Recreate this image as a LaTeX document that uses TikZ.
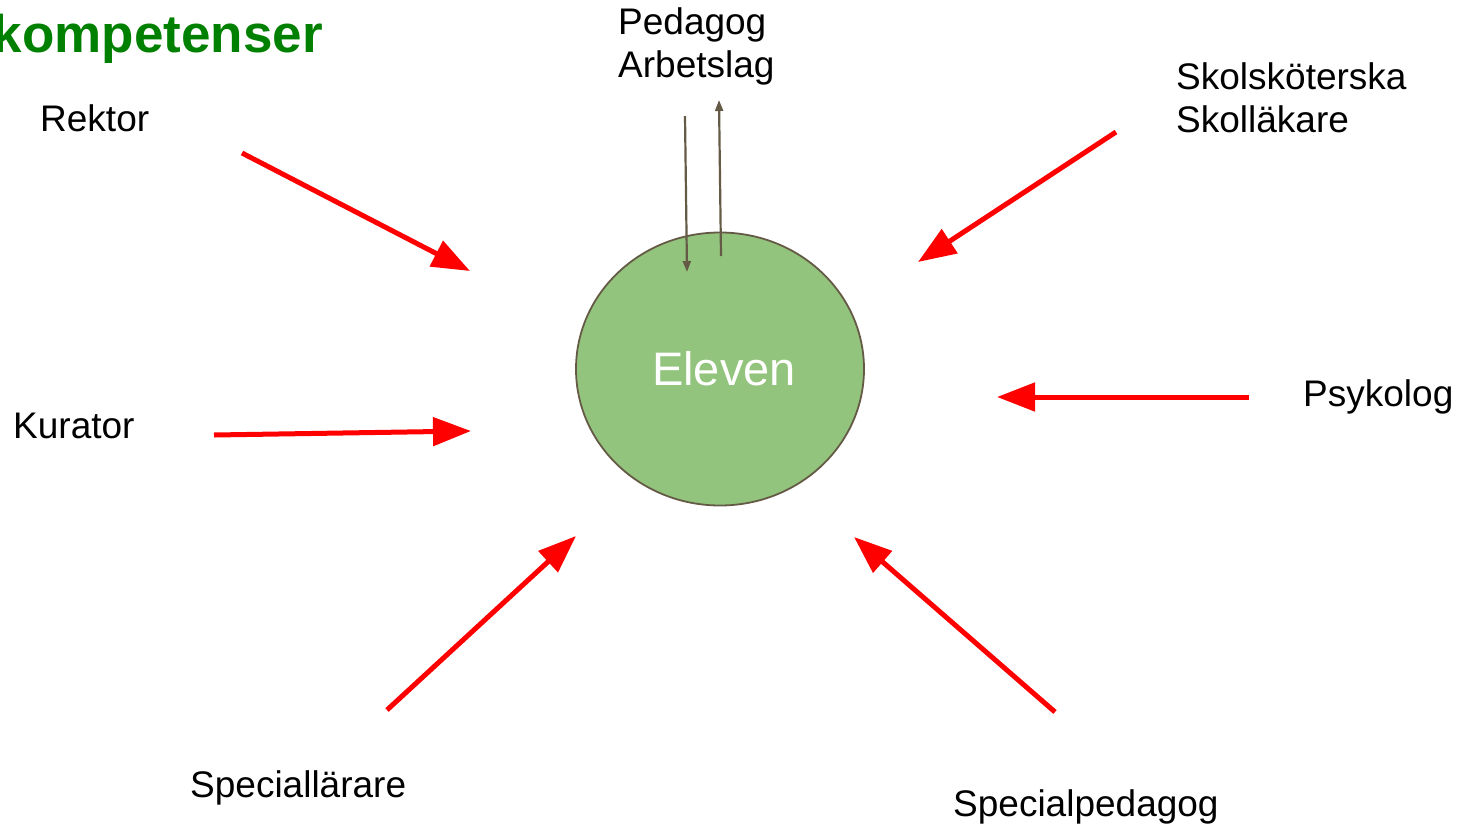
\documentclass[tikz,border=0pt]{standalone}
\usepackage{fontspec}
\setmainfont{Liberation Sans}
\usetikzlibrary{arrows.meta,shapes.geometric}
\definecolor{elevgreen}{HTML}{93C47D}
\definecolor{elevbrown}{HTML}{645A46}
\definecolor{titlegreen}{RGB}{0,128,0}
\tikzset{
  lbl/.style={inner sep=0pt, anchor=base west, font=\fontsize{37}{43}\selectfont},
  redarrow/.style={draw=red, line width=5pt, -{Triangle[length=38pt,width=28pt]}},
  brownarrow/.style={draw=elevbrown, line width=2.2pt, -{Triangle[length=11pt,width=8pt]}}
}
\begin{document}
\begin{tikzpicture}[x=1pt,y=-1pt]
\useasboundingbox (0,0) rectangle (1459,825);
% title
\node[inner sep=0pt, anchor=base east, text=titlegreen, font=\fontsize{53}{58}\selectfont\bfseries] (title) at (323,52) {kompetenser};
% center
\node[ellipse, draw=elevbrown, line width=1.8pt, fill=elevgreen, minimum width=288pt, minimum height=273pt, inner sep=0pt] (elev) at (720,369) {};
\node[inner sep=0pt, text=white, font=\fontsize{47}{50}\selectfont] (elevtxt) at (724,369) {Eleven};
% labels
\node[lbl] (rektor) at (40,131) {Rektor};
\node[lbl, align=left, anchor=north west] (pedagog) at (618,7) {Pedagog\\Arbetslag};
\node[lbl, align=left, anchor=north west] (skol) at (1176,62) {Skolsköterska\\Skolläkare};
\node[lbl] (kurator) at (13,438) {Kurator};
\node[lbl] (psykolog) at (1303,406) {Psykolog};
\node[lbl] (speciall) at (190,797) {Speciallärare};
\node[lbl] (specialp) at (953,816) {Specialpedagog};
% arrow endpoints
\coordinate (a1) at (242,153); \coordinate (b1) at (470,271);
\coordinate (a2) at (1116,132); \coordinate (b2) at (918,262);
\coordinate (a3) at (214,435); \coordinate (b3) at (471,431);
\coordinate (a4) at (1249,397); \coordinate (b4) at (997,397);
\coordinate (a5) at (387,710); \coordinate (b5) at (576,536);
\coordinate (a6) at (1055,712); \coordinate (b6) at (854,537);
\coordinate (p1) at (685,116); \coordinate (q1) at (687,272);
\coordinate (p2) at (721,256); \coordinate (q2) at (719,100);
\draw[redarrow] (a1) -- (b1);
\draw[redarrow] (a2) -- (b2);
\draw[redarrow] (a3) -- (b3);
\draw[redarrow] (a4) -- (b4);
\draw[redarrow] (a5) -- (b5);
\draw[redarrow] (a6) -- (b6);
\draw[brownarrow] (p1) -- (q1);
\draw[brownarrow] (p2) -- (q2);
\end{tikzpicture}
\end{document}
